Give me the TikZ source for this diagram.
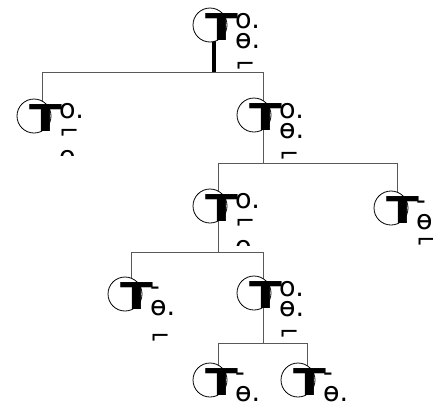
\documentclass[tikz,border=0pt]{standalone}
\usepackage{fontspec}
\newfontfamily\djv{DejaVu Sans}
\usetikzlibrary{calc}
\pgfdeclarelayer{background}
\pgfsetlayers{background,main}
\tikzset{
  circ/.style={circle,draw=black,line width=0.8pt,fill=white,minimum size=34pt,inner sep=0pt},
  tglyph/.style={font=\djv\bfseries\fontsize{37}{37}\selectfont,inner sep=0pt,anchor=base west},
  lbl/.style={font=\djv\fontsize{27}{27}\selectfont,inner sep=0pt,anchor=base west},
  sml/.style={font=\djv\fontsize{24}{24}\selectfont,inner sep=0pt,anchor=base west},
  edge/.style={draw=black!65,line width=0.9pt},
  rootedge/.style={draw=black,line width=3.5pt}
}
% circle + T
\newcommand\basenode[3]{%
  \node[circ] (#1) at (#2,#3) {};
  \node[tglyph] (#1T) at (#2-5,#3+15) {\scalebox{1.3}[1]{T}};
}
% internal, kind A
\newcommand\intA[3]{%
  \basenode{#1}{#2}{#3}
  \node[lbl] (#1a) at (#2+25,#3+3) {o.};
  \node[lbl] (#1b) at (#2+25,#3+23) {ɵ.};
  \node[sml] (#1c) at (#2+25,#3+47) {⌐};
}
% internal, kind B
\newcommand\intB[3]{%
  \basenode{#1}{#2}{#3}
  \node[lbl] (#1a) at (#2+25,#3+2) {o.};
  \node[sml] (#1b) at (#2+25,#3+23) {⌐};
  \begin{scope}
    \clip (#2+20,#3+30) rectangle (#2+60,#3+39);
    \node[lbl] (#1c) at (#2+25,#3+49) {o};
  \end{scope}
}
% leaf
\newcommand\leafA[4]{%
  \basenode{#1}{#2}{#3}
  \node[lbl] (#1a) at (#2+25,#3+1) {-};
  \node[lbl] (#1b) at (#2+25,#3+21) {#4};
}
\begin{document}
\begin{tikzpicture}[x=1pt,y=-1pt]
\useasboundingbox (0,0) rectangle (433,410);
\begin{pgfonlayer}{background}
\fill[white] (0,0) rectangle (433,410);
\end{pgfonlayer}
\coordinate (h0) at (0,72);
\coordinate (h2) at (0,163);
\coordinate (h3) at (0,252);
\coordinate (h6) at (0,343);

\intA{n0}{210}{25}
\intB{n1}{34}{116}
\intA{n2}{254}{115}
\intB{n3}{210}{206}
\leafA{n4}{391}{208}{ɵ}
\node[sml] (n4c) at (391+25,208+40) {⌐};
\leafA{n5}{125}{294}{ɵ.}
\node[sml] (n5c) at (125+25,294+50) {⌐};
\intA{n6}{254}{293}
\leafA{n7}{210}{380}{ɵ.}
\leafA{n8}{298}{380}{ɵ.}

\coordinate (a0) at ($(n0.center)+(4,0)$);
\coordinate (a1) at ($(n1.center)+(8,0)$);
\coordinate (a2) at ($(n2.center)+(9,0)$);
\coordinate (a3) at ($(n3.center)+(8,0)$);
\coordinate (a4) at ($(n4.center)+(6,0)$);
\coordinate (a5) at ($(n5.center)+(6,0)$);
\coordinate (a6) at ($(n6.center)+(9,0)$);
\coordinate (a7) at ($(n7.center)+(8,0)$);
\coordinate (a8) at ($(n8.center)+(9,0)$);

\begin{pgfonlayer}{background}
  \draw[rootedge] (a0) -- (a0 |- h0);
  \draw[edge] (a1) -- (a1 |- h0) -- (a2 |- h0) -- (a2);
  \draw[edge] (a2) -- (a2 |- h2);
  \draw[edge] (a3) -- (a3 |- h2) -- (a4 |- h2) -- (a4);
  \draw[edge] (a3) -- (a3 |- h3);
  \draw[edge] (a5) -- (a5 |- h3) -- (a6 |- h3) -- (a6);
  \draw[edge] (a6) -- (a6 |- h6);
  \draw[edge] (a7) -- (a7 |- h6) -- (a8 |- h6) -- (a8);
\end{pgfonlayer}
\end{tikzpicture}
\end{document}
